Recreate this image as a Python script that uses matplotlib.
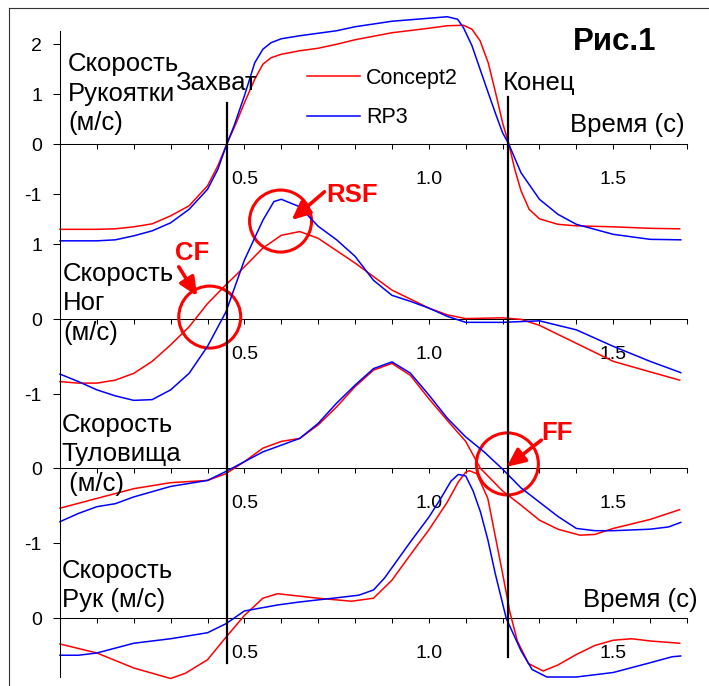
import matplotlib.pyplot as plt
import numpy as np
from matplotlib.patches import Ellipse
from matplotlib.lines import Line2D

plt.rcParams['font.family'] = ['Liberation Sans', 'DejaVu Sans']

# Скорость рукоятки (м/с)
t_h_c2 = [0, 0.05, 0.1, 0.15, 0.2, 0.25, 0.3, 0.35, 0.4, 0.428, 0.452, 0.478, 0.5, 0.528, 0.55, 0.572, 0.6, 0.65, 0.7, 0.75,
          0.8, 0.9, 1.0, 1.05, 1.094, 1.117, 1.139, 1.161, 1.183, 1.2, 1.217, 1.233, 1.25, 1.272, 1.3, 1.35, 1.4, 1.5, 1.6, 1.68]
v_h_c2 = [-1.70, -1.70, -1.70, -1.69, -1.65, -1.59, -1.43, -1.23, -0.83, -0.43, 0.0, 0.43, 0.83, 1.30, 1.60, 1.73, 1.80, 1.87, 1.92, 2.00,
          2.09, 2.23, 2.32, 2.37, 2.38, 2.30, 2.07, 1.63, 0.97, 0.43, 0.0, -0.50, -0.93, -1.30, -1.49, -1.60, -1.63, -1.65, -1.68, -1.69]
t_h_rp = [0, 0.05, 0.1, 0.15, 0.2, 0.25, 0.3, 0.35, 0.4, 0.428, 0.452, 0.472, 0.5, 0.528, 0.55, 0.572, 0.6, 0.65, 0.7, 0.75,
          0.8, 0.9, 1.0, 1.05, 1.078, 1.094, 1.117, 1.139, 1.161, 1.183, 1.2, 1.217, 1.25, 1.3, 1.35, 1.4, 1.5, 1.6, 1.683]
v_h_rp = [-1.93, -1.93, -1.93, -1.91, -1.83, -1.73, -1.57, -1.30, -0.90, -0.50, 0.0, 0.37, 0.97, 1.63, 1.90, 2.03, 2.11, 2.17, 2.22, 2.27,
          2.35, 2.46, 2.52, 2.55, 2.50, 2.33, 1.97, 1.50, 1.03, 0.57, 0.23, 0.0, -0.57, -1.10, -1.40, -1.60, -1.80, -1.90, -1.91]

# Скорость ног
t_l_c2 = [0, 0.05, 0.1, 0.15, 0.2, 0.25, 0.3, 0.35, 0.4, 0.45, 0.5, 0.55, 0.6, 0.65, 0.7, 0.8, 0.9, 1.0, 1.05, 1.1,
          1.2, 1.25, 1.3, 1.4, 1.5, 1.6, 1.68]
v_l_c2 = [-0.83, -0.85, -0.85, -0.81, -0.72, -0.56, -0.34, -0.10, 0.21, 0.46, 0.70, 0.95, 1.12, 1.17, 1.08, 0.75, 0.39, 0.15, 0.06, 0.01,
          0.02, 0.0, -0.08, -0.32, -0.56, -0.70, -0.81]
t_l_rp = [0, 0.05, 0.1, 0.15, 0.2, 0.25, 0.3, 0.35, 0.4, 0.45, 0.5, 0.55, 0.58, 0.6, 0.65, 0.7, 0.75, 0.8, 0.85, 0.9,
          0.95, 1.0, 1.05, 1.1, 1.2, 1.3, 1.4, 1.5, 1.6, 1.683]
v_l_rp = [-0.73, -0.83, -0.94, -1.02, -1.08, -1.07, -0.94, -0.72, -0.36, 0.10, 0.79, 1.32, 1.57, 1.60, 1.50, 1.24, 1.06, 0.84, 0.52, 0.32,
          0.24, 0.15, 0.04, -0.04, -0.04, -0.02, -0.14, -0.36, -0.56, -0.71]

# Скорость туловища
t_t_c2 = [0, 0.1, 0.2, 0.3, 0.4, 0.45, 0.5, 0.55, 0.6, 0.65, 0.7, 0.75, 0.8, 0.85, 0.9, 0.95, 1.0, 1.05, 1.1, 1.14,
          1.2, 1.25, 1.3, 1.35, 1.41, 1.45, 1.5, 1.6, 1.68]
v_t_c2 = [-0.53, -0.40, -0.27, -0.19, -0.16, -0.07, 0.09, 0.27, 0.36, 0.40, 0.58, 0.82, 1.09, 1.31, 1.40, 1.24, 0.93, 0.64, 0.36, 0.0,
          -0.30, -0.49, -0.69, -0.81, -0.89, -0.88, -0.80, -0.68, -0.55]
t_t_rp = [0, 0.05, 0.1, 0.15, 0.2, 0.3, 0.4, 0.45, 0.5, 0.55, 0.6, 0.65, 0.7, 0.75, 0.8, 0.85, 0.9, 0.95, 1.0, 1.05,
          1.1, 1.15, 1.2, 1.25, 1.3, 1.35, 1.4, 1.45, 1.5, 1.6, 1.65, 1.683]
v_t_rp = [-0.71, -0.60, -0.51, -0.47, -0.38, -0.24, -0.16, -0.04, 0.09, 0.22, 0.31, 0.40, 0.60, 0.87, 1.11, 1.33, 1.42, 1.27, 0.98, 0.67,
          0.42, 0.22, -0.01, -0.26, -0.45, -0.64, -0.80, -0.83, -0.83, -0.81, -0.78, -0.72]

# Скорость рук
t_a_c2 = [0, 0.1, 0.2, 0.3, 0.34, 0.4, 0.45, 0.5, 0.55, 0.59, 0.7, 0.79, 0.85, 0.9, 0.95, 1.0, 1.05, 1.08, 1.1, 1.11,
          1.13, 1.16, 1.18, 1.2, 1.22, 1.24, 1.27, 1.31, 1.35, 1.4, 1.45, 1.5, 1.55, 1.6, 1.68]
v_a_c2 = [-0.34, -0.46, -0.66, -0.80, -0.73, -0.55, -0.25, 0.04, 0.27, 0.33, 0.27, 0.23, 0.27, 0.51, 0.85, 1.18, 1.55, 1.82, 1.95, 1.97,
          1.93, 1.60, 1.10, 0.60, 0.08, -0.30, -0.60, -0.70, -0.62, -0.48, -0.36, -0.29, -0.27, -0.30, -0.33]
t_a_rp = [0, 0.05, 0.1, 0.2, 0.3, 0.4, 0.45, 0.5, 0.59, 0.65, 0.74, 0.81, 0.85, 0.88, 0.95, 1.0, 1.03, 1.06, 1.08, 1.1,
          1.12, 1.14, 1.16, 1.18, 1.21, 1.25, 1.28, 1.32, 1.4, 1.5, 1.6, 1.66, 1.683]
v_a_rp = [-0.49, -0.49, -0.46, -0.33, -0.27, -0.19, -0.07, 0.10, 0.18, 0.22, 0.27, 0.31, 0.38, 0.54, 1.02, 1.35, 1.58, 1.83, 1.92, 1.90,
          1.70, 1.42, 1.05, 0.60, 0.0, -0.43, -0.68, -0.78, -0.78, -0.72, -0.59, -0.51, -0.50]

t_catch = 0.4526
t_finish = 1.215

RED = '#ff0000'
BLUE = '#0000ff'

# нулевые уровни и масштаб каждой панели
h0, hs = 6.32, 2 / 3
l0, t0, a0 = 3.987, 2.0, 0.0

fig = plt.figure(figsize=(7.09, 6.86), dpi=100)
ax = fig.add_axes([60 / 709, 9 / 686, 627 / 709, 646 / 686])
ax.set_xlim(0, 1.7)
ax.set_ylim(-0.78, 7.83)

lw = 1.1
lc2, = ax.plot(t_h_c2, h0 + hs * np.array(v_h_c2), color=RED, lw=lw, label='Concept2', clip_on=False)
lrp, = ax.plot(t_h_rp, h0 + hs * np.array(v_h_rp), color=BLUE, lw=lw, label='RP3', clip_on=False)
ax.plot(t_l_c2, l0 + np.array(v_l_c2), color=RED, lw=lw, clip_on=False)
ax.plot(t_l_rp, l0 + np.array(v_l_rp), color=BLUE, lw=lw, clip_on=False)
ax.plot(t_t_c2, t0 + np.array(v_t_c2), color=RED, lw=lw, clip_on=False)
ax.plot(t_t_rp, t0 + np.array(v_t_rp), color=BLUE, lw=lw, clip_on=False)
ax.plot(t_a_c2, a0 + np.array(v_a_c2), color=RED, lw=lw, clip_on=False)
ax.plot(t_a_rp, a0 + np.array(v_a_rp), color=BLUE, lw=lw, clip_on=False)

# оси времени на каждом нуле
for z in [h0, l0, t0, a0]:
    sec = ax.secondary_xaxis(z, transform=ax.transData)
    sec.set_alignment('bottom')
    sec.set_xticks([0.5, 1.0, 1.5], ['0.5', '1.0', '1.5'])
    sec.set_xticks(np.arange(0, 1.71, 0.1), minor=True)
    sec.tick_params(which='both', direction='out', length=3.6, width=0.75, pad=15.8, labelsize=14)
    sec.spines['bottom'].set_linewidth(0.75)

ax.set_yticks([h0 + 2 * hs, h0 + hs, h0, h0 - hs, l0 + 1, l0, l0 - 1, t0, t0 - 1, a0],
              ['2', '1', '0', '-1', '1', '0', '-1', '0', '-1', '0'])
ax.tick_params(axis='y', length=5, width=0.75, pad=8, labelsize=14)
ax.tick_params(axis='x', bottom=False, labelbottom=False)
for s in ['top', 'right', 'bottom']:
    ax.spines[s].set_visible(False)
ax.spines['left'].set_linewidth(0.75)
ax.patch.set_alpha(0)

# захват и конец
ax.plot([t_catch, t_catch], [6.87, -0.6], color='k', lw=1.6)
ax.plot([t_finish, t_finish], [6.95, -0.52], color='k', lw=1.6)

fs = 18.5
ax.text(0.0217, 7.551, 'Скорость\nРукоятки\n(м/с)', fontsize=fs, va='top', ha='left', linespacing=1.3)
ax.text(0.008, l0 + 0.77, 'Скорость\nНог\n(м/с)', fontsize=fs, va='top', ha='left', linespacing=1.3)
ax.text(0.005, t0 + 0.743, 'Скорость\nТуловища\n (м/с)', fontsize=fs, va='top', ha='left', linespacing=1.3)
ax.text(0.005, a0 + 0.796, 'Скорость\nРук (м/с)', fontsize=fs, va='top', ha='left', linespacing=1.3)
ax.text(0.3117, 7.044, 'Захват', fontsize=fs, va='baseline', ha='left')
ax.text(1.2005, 7.044, 'Конец', fontsize=fs, va='baseline', ha='left')
ax.text(1.694, 6.484, 'Время (с)', fontsize=fs, va='baseline', ha='right')
ax.text(1.729, 0.155, 'Время (с)', fontsize=fs, va='baseline', ha='right')
ax.text(1.390, 7.577, 'Рис.1', fontsize=22.5, fontweight='bold', va='baseline', ha='left')

ax.legend(handles=[lc2, lrp], loc='upper left', bbox_to_anchor=(307 / 709, 1 - 68 / 686),
          bbox_transform=fig.transFigure, frameon=False, fontsize=15.5, handlelength=2.46,
          handletextpad=0.28, labelspacing=0.85, borderpad=0, borderaxespad=0)

# отметки CF, RSF, FF
r_t, r_v = 62 / 369, 62 / 75
for (tc, vc) in [(0.406, l0 + 0.03), (0.598, l0 + 1.31), (1.213, t0 + 0.06)]:
    ax.add_patch(Ellipse((tc, vc), r_t, r_v, fill=False, ec=RED, lw=2.2))

arrow = dict(arrowstyle='-|>,head_length=0.55,head_width=0.25', color=RED, lw=2.6,
             shrinkA=0, shrinkB=0, mutation_scale=20)
ax.annotate('', xy=(0.372, l0 + 0.31), xytext=(0.322, l0 + 0.70), arrowprops=arrow)
ax.annotate('', xy=(0.628, l0 + 1.324), xytext=(0.717, l0 + 1.70), arrowprops=arrow)
ax.annotate('', xy=(1.211, t0 + 0.021), xytext=(1.305, t0 + 0.377), arrowprops=arrow)
ax.text(0.312, l0 + 0.79, 'CF', color=RED, fontsize=fs, fontweight='bold', va='baseline')
ax.text(0.721, l0 + 1.564, 'RSF', color=RED, fontsize=fs, fontweight='bold', va='baseline')
ax.text(1.306, t0 + 0.377, 'FF', color=RED, fontsize=fs, fontweight='bold', va='baseline')

# рамка страницы
fig.add_artist(Line2D([9 / 709, 1.0], [1 - 8 / 686] * 2, color='#333333', lw=0.8, transform=fig.transFigure))
fig.add_artist(Line2D([9 / 709] * 2, [0, 1 - 8 / 686], color='#333333', lw=0.8, transform=fig.transFigure))

fig.savefig('out.png', dpi=100)
